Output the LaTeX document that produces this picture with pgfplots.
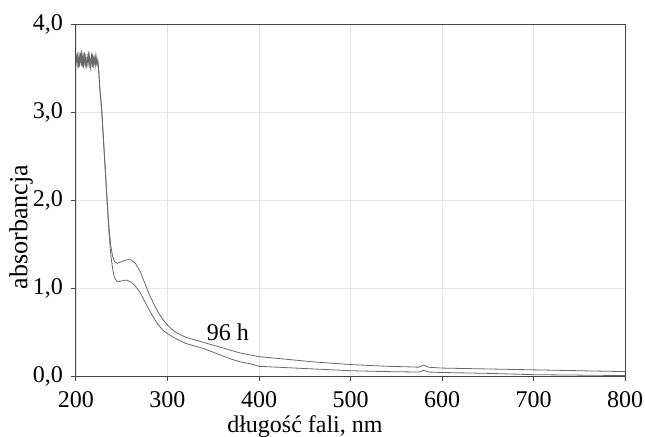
\documentclass[border=0pt]{standalone}
\usepackage{pgfplots}
\pgfplotsset{compat=1.18}
\usepackage{fontspec}
\setmainfont{Liberation Serif}
\definecolor{gridc}{RGB}{228,228,228}
\definecolor{axc}{RGB}{70,70,70}
\definecolor{curvec}{RGB}{105,105,105}
\begin{document}
\fontsize{24bp}{28bp}\selectfont
\begin{tikzpicture}
\path[use as bounding box] (-76bp,-61bp) rectangle (569bp,376bp);
\begin{axis}[
  at={(0,0)}, anchor=south west,
  scale only axis, width=549bp, height=352bp,
  xmin=200, xmax=800, ymin=0, ymax=4,
  xtick={200,300,...,800}, ytick={0,1,2,3,4},
  grid=major, major grid style={gridc, line width=0.8bp},
  axis line style={axc, line width=1bp},
  tick style={axc, line width=1bp},
  tick align=outside, major tick length=5bp,
  xtick pos=left, ytick pos=left,
  /pgf/number format/assume math mode=true,
  yticklabel style={/pgf/number format/.cd, use comma, fixed, fixed zerofill, precision=1},
  xticklabel style={yshift=-2bp, /pgf/number format/.cd, set thousands separator={}},
  tick label style={font=\fontsize{24bp}{28bp}\selectfont},
  ticklabel style={text=black},
  xlabel={długość fali, nm},
  ylabel={absorbancja},
  xlabel style={at={(axis description cs:0.417,0)}, anchor=center, yshift=-51bp, font=\fontsize{24bp}{28bp}\selectfont},
  ylabel style={at={(axis description cs:-0.100,0.423)}, anchor=center, font=\fontsize{26bp}{30bp}\selectfont},
]
\addplot[curvec, line width=0.8bp] coordinates {
(200,3.62)(201,3.55)(202,3.68)(203,3.50)(204,3.64)(205,3.58)(206,3.70)(207,3.52)(208,3.63)(209,3.56)(210,3.66)(211,3.49)(212,3.61)(213,3.57)(214,3.69)(215,3.53)(216,3.60)(217,3.65)(218,3.51)(219,3.62)(220,3.56)(221,3.64)(222,3.54)(223,3.60)(224,3.55)
(225,3.45)(226,3.28)(228,3.05)(230,2.70)(232,2.35)(234,2.00)(236,1.70)(238,1.48)(240,1.36)(242,1.30)(245,1.28)(250,1.30)(255,1.32)(260,1.32)(265,1.28)(270,1.19)(275,1.06)(280,0.93)(285,0.82)(290,0.72)(295,0.64)(300,0.58)(305,0.53)(310,0.49)(320,0.44)(330,0.41)(340,0.38)(350,0.35)(360,0.32)(370,0.29)(380,0.26)(390,0.24)(400,0.22)(420,0.20)(440,0.18)(460,0.16)(480,0.145)(500,0.13)(520,0.12)(540,0.11)(560,0.105)(575,0.10)(580,0.125)(585,0.10)(600,0.09)(650,0.08)(700,0.07)(750,0.06)(800,0.05)
};
\addplot[curvec, line width=0.8bp] coordinates {
(200,3.56)(201,3.66)(202,3.53)(203,3.61)(204,3.52)(205,3.67)(206,3.55)(207,3.63)(208,3.50)(209,3.68)(210,3.54)(211,3.60)(212,3.51)(213,3.66)(214,3.55)(215,3.62)(216,3.50)(217,3.58)(218,3.64)(219,3.53)(220,3.61)(221,3.52)(222,3.63)(223,3.54)(224,3.58)
(225,3.44)(226,3.26)(228,3.03)(230,2.68)(232,2.33)(234,1.98)(236,1.64)(238,1.38)(240,1.22)(242,1.12)(245,1.07)(250,1.08)(255,1.09)(260,1.07)(265,1.02)(270,0.95)(275,0.85)(280,0.75)(285,0.66)(290,0.58)(295,0.52)(300,0.48)(305,0.45)(310,0.42)(320,0.37)(330,0.34)(340,0.31)(350,0.27)(360,0.23)(370,0.19)(380,0.16)(390,0.14)(400,0.11)(420,0.10)(440,0.09)(460,0.08)(480,0.07)(500,0.06)(540,0.05)(575,0.045)(580,0.065)(585,0.045)(600,0.04)(650,0.03)(700,0.015)(750,0.01)(800,0.005)
};
\node[font=\fontsize{24bp}{28bp}\selectfont] at (axis cs:366,0.5) {96 h};
\end{axis}
\end{tikzpicture}
\end{document}
